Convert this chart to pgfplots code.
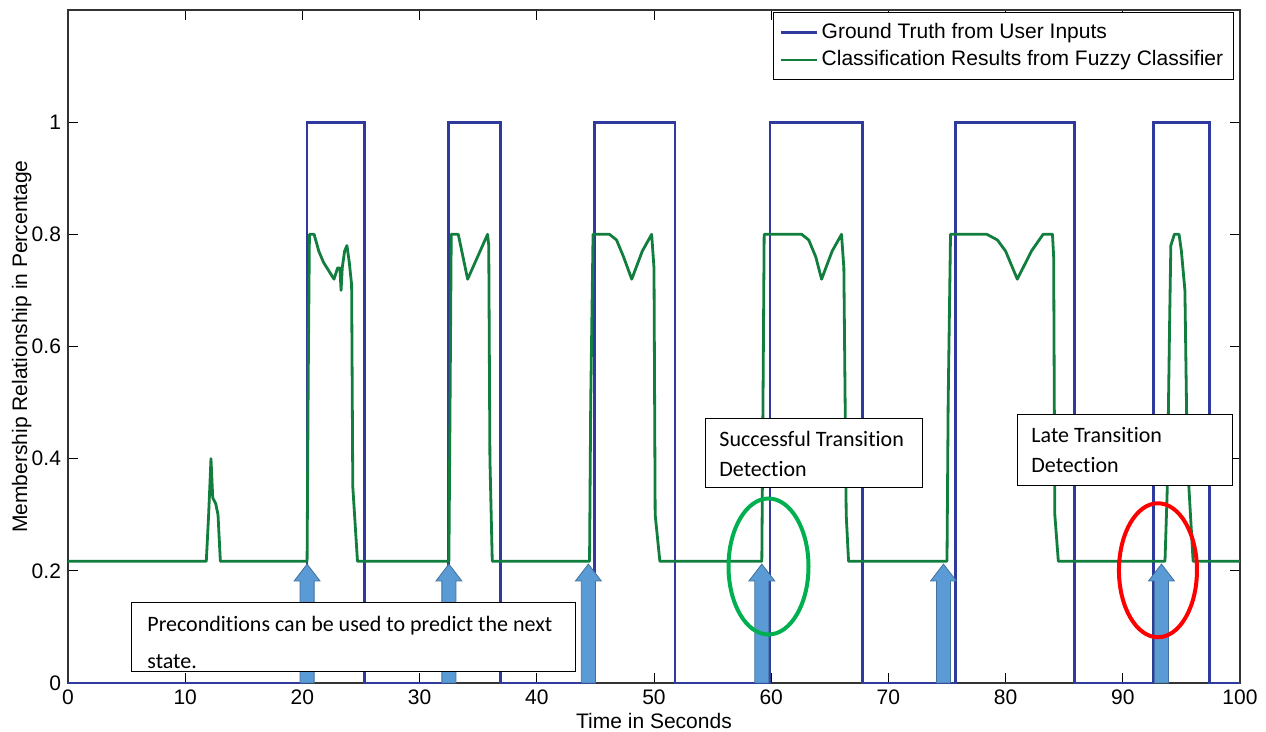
\documentclass[border=0pt]{standalone}
\usepackage{fontspec}
\setmainfont{Liberation Sans}
\newfontfamily\cali[Ligatures={NoCommon}]{Carlito}
\usepackage{pgfplots}
\pgfplotsset{compat=1.18}
\definecolor{truth}{RGB}{46,58,156}
\definecolor{fuzzy}{RGB}{18,126,62}
\definecolor{arrowfill}{HTML}{5B9BD5}
\definecolor{arrowedge}{HTML}{41719C}
\definecolor{okgreen}{HTML}{00B050}
\definecolor{lategrn}{HTML}{FF0000}

% block arrow pointing up at time #1
\newcommand{\uparrowat}[1]{%
  \draw[fill=arrowfill, draw=arrowedge, line width=0.4pt]
    (axis cs:#1-0.6,0) -- (axis cs:#1-0.6,0.182) -- (axis cs:#1-1.1,0.182)
    -- (axis cs:#1,0.212) -- (axis cs:#1+1.1,0.182) -- (axis cs:#1+0.6,0.182)
    -- (axis cs:#1+0.6,0) -- cycle;}

\begin{document}
\begin{tikzpicture}
\begin{axis}[
  width=586pt, height=336.5pt,
  scale only axis,
  xmin=0, xmax=100, ymin=0, ymax=1.2,
  xtick={0,10,...,100},
  ytick={0,0.2,0.4,0.6,0.8,1},
  yticklabels={0,0.2,0.4,0.6,0.8,1},
  tick align=inside,
  major tick length=5pt,
  tick style={black, line width=0.5pt},
  axis line style={black!80, line width=0.6pt},
  ticklabel style={font=\fontsize{10.5}{12}\selectfont},
  /pgf/number format/assume math mode=true,
  xlabel={Time in Seconds},
  ylabel={Membership Relationship in Percentage},
  label style={font=\fontsize{10.5}{12}\selectfont},
  xlabel style={at={(axis description cs:0.5,-0.056)}, anchor=center},
  ylabel style={at={(axis description cs:-0.0395,0.5)}, anchor=center},
  clip=false,
  legend style={at={(0.9945,0.997)}, anchor=north east, draw=black,
    font=\fontsize{10.5}{12}\selectfont, cells={anchor=west},
    inner xsep=3pt, inner ysep=3.5pt, row sep=0.5pt},
  legend image code/.code={\draw[#1, line width=1.2pt] (0pt,0pt) -- (18pt,0pt);},
]
\addplot[truth, line width=1.4pt] coordinates {
  (0,0) (20.4,0) (20.4,1) (25.3,1) (25.3,0) (32.5,0) (32.5,1) (36.9,1) (36.9,0)
  (44.9,0) (44.9,1) (51.8,1) (51.8,0) (59.9,0) (59.9,1) (67.8,1) (67.8,0)
  (75.7,0) (75.7,1) (85.9,1) (85.9,0) (92.6,0) (92.6,1) (97.4,1) (97.4,0) (100,0)
};
\addlegendentry{Ground Truth from User Inputs}
\addplot[fuzzy, line width=1.4pt, line join=round] coordinates {
  (0,0.217) (11.8,0.217) (12.0,0.30) (12.2,0.40) (12.35,0.33) (12.6,0.32)
  (12.8,0.30) (13.0,0.217)
  (20.4,0.217) (20.5,0.55) (20.6,0.80) (21.0,0.80) (21.4,0.77) (21.8,0.75)
  (22.7,0.72) (23.0,0.74) (23.2,0.74) (23.3,0.70) (23.4,0.74) (23.6,0.77)
  (23.8,0.78) (24.0,0.75) (24.2,0.71) (24.3,0.35) (24.7,0.217)
  (32.5,0.217) (32.6,0.50) (32.7,0.80) (33.3,0.80) (34.1,0.72) (35.8,0.80)
  (35.9,0.78) (36.0,0.40) (36.2,0.217)
  (44.5,0.217) (44.6,0.50) (44.8,0.80) (46.2,0.80) (46.8,0.79) (47.4,0.76)
  (48.1,0.72) (49.0,0.77) (49.8,0.80) (50.0,0.74) (50.1,0.30) (50.5,0.217)
  (59.2,0.217) (59.3,0.50) (59.4,0.80) (62.6,0.80) (63.2,0.79) (63.8,0.76)
  (64.3,0.72) (65.2,0.77) (66.0,0.80) (66.2,0.74) (66.4,0.30) (66.6,0.217)
  (75.0,0.217) (75.1,0.50) (75.3,0.80) (78.4,0.80) (79.3,0.79) (80.0,0.77)
  (81.0,0.72) (82.2,0.77) (83.2,0.80) (84.0,0.80) (84.1,0.76) (84.2,0.30)
  (84.5,0.217)
  (93.6,0.217) (93.8,0.35) (94.0,0.65) (94.1,0.78) (94.4,0.80) (94.8,0.80)
  (95.0,0.77) (95.3,0.70) (95.5,0.40) (96.0,0.217) (100,0.217)
};
\addlegendentry{Classification Results from Fuzzy Classifier}

% arrows marking the preconditions
\uparrowat{20.4}
\uparrowat{32.5}
\uparrowat{44.4}
\uparrowat{59.2}
\uparrowat{74.7}
\uparrowat{93.3}

% text boxes
\draw[fill=white, draw=black, line width=0.5pt] (axis cs:5.4,0.143) rectangle (axis cs:43.3,0.0196);
\node[anchor=base west, inner sep=0pt, font=\cali\fontsize{11}{13}\selectfont] at (axis cs:6.74,0.0927) {Preconditions can be used to predict the next};
\node[anchor=base west, inner sep=0pt, font=\cali\fontsize{11}{13}\selectfont] at (axis cs:6.74,0.0267) {state.};

\draw[fill=white, draw=black, line width=0.5pt] (axis cs:54.4,0.472) rectangle (axis cs:72.9,0.349);
\node[anchor=base west, inner sep=0pt, font=\cali\fontsize{11}{13}\selectfont] at (axis cs:55.55,0.4225) {Successful Transition};
\node[anchor=base west, inner sep=0pt, font=\cali\fontsize{11}{13}\selectfont] at (axis cs:55.55,0.369) {Detection};

\draw[fill=white, draw=black, line width=0.5pt] (axis cs:81.0,0.478) rectangle (axis cs:99.4,0.353);
\node[anchor=base west, inner sep=0pt, font=\cali\fontsize{11}{13}\selectfont] at (axis cs:82.17,0.428) {Late Transition};
\node[anchor=base west, inner sep=0pt, font=\cali\fontsize{11}{13}\selectfont] at (axis cs:82.17,0.376) {Detection};

% ellipses
\draw[okgreen, line width=2pt] (axis cs:59.77,0.2077) ellipse [x radius=20pt, y radius=34pt];
\draw[lategrn, line width=2pt] (axis cs:93.0,0.201) ellipse [x radius=19.5pt, y radius=33.5pt];
\end{axis}
\pgfresetboundingbox
\path ([shift={(-34pt,-24.5pt)}]current axis.south west) rectangle ([shift={(13pt,5pt)}]current axis.north east);
\end{tikzpicture}
\end{document}
